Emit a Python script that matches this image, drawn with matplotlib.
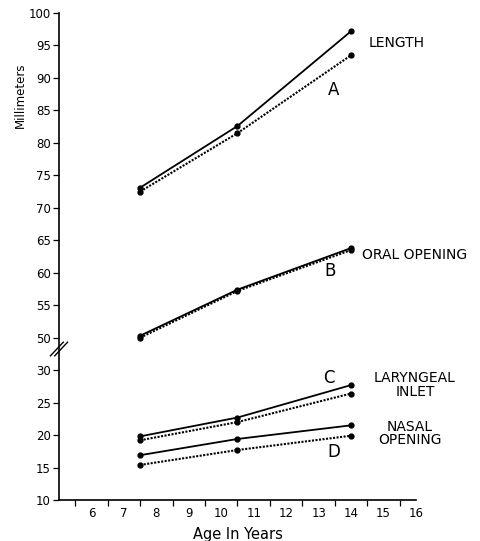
import numpy as np
import matplotlib
matplotlib.use("Agg")
import matplotlib.pyplot as plt

# ==== Données ====
ages = [7.5, 10.5, 14.0]

length_solid = [73.1, 82.6, 97.2]
length_dot = [72.5, 81.5, 93.5]
oral_solid = [50.3, 57.4, 63.8]
oral_dot = [50.0, 57.2, 63.5]
laryn_solid = [19.8, 22.7, 27.7]
laryn_dot = [19.2, 22.0, 26.4]
nasal_solid = [16.9, 19.4, 21.5]
nasal_dot = [15.4, 17.7, 19.9]

y_ticks = [10, 15, 20, 25, 30, 50, 55, 60, 65, 70, 75, 80, 85, 90, 95, 100]
x_labels = [6, 7, 8, 9, 10, 11, 12, 13, 14, 15, 16]


# ==== Echelle coupée (30 -> 50) ====
def fwd(y):
    y = np.asarray(y, dtype=float)
    return np.where(y <= 30, y + 15, np.where(y >= 50, y, 45 + (y - 30) * 0.25))


def inv(v):
    v = np.asarray(v, dtype=float)
    return np.where(v <= 45, v - 15, np.where(v >= 50, v, 30 + (v - 45) * 4))


plt.rcParams['font.family'] = ['DejaVu Sans']

fig = plt.figure(figsize=(4.8, 5.41), dpi=100)
ax = fig.add_axes([59 / 480, 41 / 541, (416 - 59) / 480, (500 - 13) / 541])
ax.set_yscale('function', functions=(fwd, inv))

kw_s = dict(color='black', lw=1.3, marker='o', ms=3.5)
kw_d = dict(color='black', lw=1.5, ls=(0, (1, 0.7)), marker='o', ms=3.5)

for s, d in [(length_solid, length_dot), (oral_solid, oral_dot),
             (laryn_solid, laryn_dot), (nasal_solid, nasal_dot)]:
    ax.plot(ages, s, **kw_s)
    ax.plot(ages, d, **kw_d)

ax.set_xlim(5, 16)
ax.set_ylim(10, 100)
ax.set_yticks(y_ticks)
ax.set_yticklabels([str(t) for t in y_ticks], fontsize=8.5)
ax.set_xticks(np.arange(5.5, 16, 1.0))
ax.set_xticklabels([])
ax.set_xticks(x_labels, minor=True)
ax.set_xticklabels([str(t) for t in x_labels], minor=True, fontsize=8.5)
ax.tick_params(axis='x', which='minor', length=0, pad=5)
ax.tick_params(axis='x', which='major', length=4, width=0.9, direction='out')
ax.tick_params(axis='y', length=4, width=0.9, direction='out', pad=2)
ax.spines['top'].set_visible(False)
ax.spines['right'].set_visible(False)
ax.spines['left'].set_linewidth(1.2)
ax.spines['bottom'].set_linewidth(1.2)

# marque de coupure (//) entre 30 et 50
yb = (500 - 349) / 487
for dx in (-0.006, 0.006):
    ax.plot([-0.018 + dx, 0.018 + dx], [yb - 0.014, yb + 0.014],
            transform=ax.transAxes, color='black', lw=1.0, clip_on=False)

ax.set_xlabel('Age In Years', fontsize=10.5, labelpad=5)
fig.text(20 / 480, 1 - 95 / 541, 'Millimeters', rotation=90, fontsize=8.5,
         ha='center', va='center')

# étiquettes
ax.text(15.39, 95.4, 'LENGTH', fontsize=10, ha='center', va='center')
ax.text(13.47, 88.2, 'A', fontsize=12, ha='center', va='center')
ax.text(15.97, 62.8, 'ORAL OPENING', fontsize=10, ha='center', va='center')
ax.text(13.35, 60.2, 'B', fontsize=12, ha='center', va='center')
ax.text(15.97, 27.7, 'LARYNGEAL\nINLET', fontsize=10, ha='center', va='center',
        linespacing=0.95)
ax.text(13.32, 28.8, 'C', fontsize=12, ha='center', va='center')
ax.text(15.82, 20.2, 'NASAL\nOPENING', fontsize=10, ha='center', va='center',
        linespacing=0.95)
ax.text(13.47, 17.4, 'D', fontsize=12, ha='center', va='center')

fig.savefig('out.png', dpi=100)
